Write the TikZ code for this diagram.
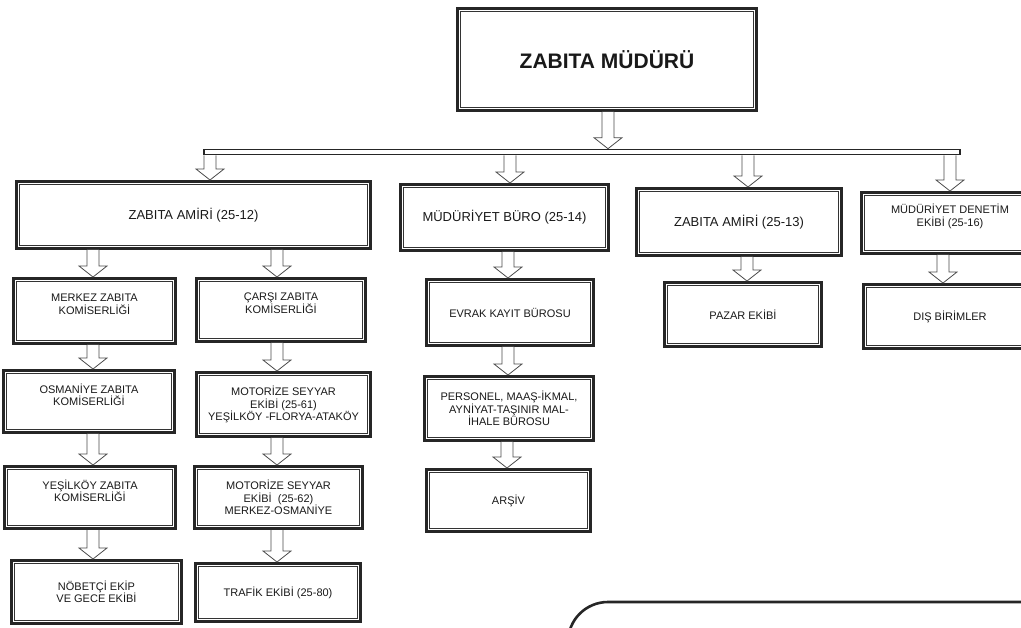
\documentclass[tikz,border=0pt]{standalone}
\usepackage{fontspec}
\setmainfont{Liberation Sans}
\usetikzlibrary{calc}
\tikzset{
  ubox/.style={draw=black!85, line width=2.8pt, fill=white, text=black!90, align=center,
    inner sep=0pt, font=\fontsize{11}{12.5}\selectfont},
  inbox/.style={draw=black!80, line width=1.1pt},
  blk/.style={draw=black!70, line width=0.8pt, fill=white, line join=miter},
  bigtxt/.style={font=\fontsize{13}{15}\selectfont},
  ttl/.style={font=\fontsize{21}{25}\selectfont\bfseries}
}
\newcommand\ubox[7][]{%
  \node[ubox,#1,minimum width={(#5-#3-2.8)*1pt},minimum height={(#6-#4-2.8)*1pt}] (#2) at ({(#3+#5)/2},{(#4+#6)/2}) {#7};
  \draw[inbox] ([xshift=4.6pt,yshift=-4.6pt]#2.north west) rectangle ([xshift=-4.6pt,yshift=4.6pt]#2.south east);
}
\newcommand\barrow[3]{%
  \draw[blk] let \p1=(#1), \p2=(#2) in
    ({(#3-6)*1pt},\y1) -- ({(#3-6)*1pt},{\y2+11pt}) -- ({(#3-14)*1pt},{\y2+11pt}) -- ({#3*1pt},\y2)
    -- ({(#3+14)*1pt},{\y2+11pt}) -- ({(#3+6)*1pt},{\y2+11pt}) -- ({(#3+6)*1pt},\y1);
}
\begin{document}
\begin{tikzpicture}[x=1pt,y=-1pt]
\path[use as bounding box] (0,0) rectangle (1021,628);
\clip (0,0) rectangle (1021,628);
\fill[white] (0,0) rectangle (1021,628);

% top
\ubox[ttl]{top}{456}{7}{758}{112}{ZABITA MÜDÜRÜ}
% bus
\node[draw=black!85, line width=1.6pt, fill=white, minimum width=756pt, minimum height=5pt, inner sep=0pt] (bus) at (582,152) {};
\barrow{top.south}{bus.north}{608}

% row 1
\ubox[bigtxt]{zamir1}{15}{180}{372}{250}{ZABITA AMİRİ (25-12)}
\ubox[bigtxt]{mburo}{399}{183}{610}{252}{MÜDÜRİYET BÜRO (25-14)}
\ubox[bigtxt]{zamir2}{635}{187}{843}{257}{ZABITA AMİRİ (25-13)}
\ubox{mdenetim}{860}{191}{1040}{255}{MÜDÜRİYET DENETİM\\EKİBİ (25-16)\\[3pt]}
\barrow{bus.south}{zamir1.north}{210}
\barrow{bus.south}{mburo.north}{510}
\barrow{bus.south}{zamir2.north}{748}
\barrow{bus.south}{mdenetim.north}{950}

% column 1
\ubox{merkez}{12}{277}{177}{345}{MERKEZ ZABITA\\KOMİSERLİĞİ\\[1pt]}
\ubox{osmaniye}{2}{369}{176}{434}{OSMANİYE ZABITA\\KOMİSERLİĞİ\\[1pt]}
\ubox{yesilkoy}{3}{465}{177}{530}{YEŞİLKÖY ZABITA\\KOMİSERLİĞİ\\[1pt]}
\ubox{nobetci}{10}{559}{183}{625}{NÖBETÇİ EKİP\\VE GECE EKİBİ}
\barrow{zamir1.south}{merkez.north}{93}
\barrow{merkez.south}{osmaniye.north}{93}
\barrow{osmaniye.south}{yesilkoy.north}{93}
\barrow{yesilkoy.south}{nobetci.north}{93}

% column 2
\ubox{carsi}{195}{277}{367}{343}{ÇARŞI ZABITA\\KOMİSERLİĞİ\\[1pt]}
\ubox{moto1}{195}{371}{372}{438}{MOTORİZE SEYYAR\\EKİBİ (25-61)\\YEŞİLKÖY -FLORYA-ATAKÖY}
\ubox{moto2}{193}{465}{364}{530}{MOTORİZE SEYYAR\\EKİBİ \ (25-62)\\MERKEZ-OSMANİYE}
\ubox{trafik}{194}{562}{362}{623}{TRAFİK EKİBİ (25-80)}
\barrow{zamir1.south}{carsi.north}{277}
\barrow{carsi.south}{moto1.north}{277}
\barrow{moto1.south}{moto2.north}{277}
\barrow{moto2.south}{trafik.north}{277}

% column 3
\ubox{evrak}{425}{278}{595}{347}{EVRAK KAYIT BÜROSU}
\ubox{personel}{423}{375}{595}{442}{PERSONEL, MAAŞ-İKMAL,\\AYNİYAT-TAŞINIR MAL-\\İHALE BÜROSU}
\ubox{arsiv}{425}{468}{592}{533}{ARŞİV}
\barrow{mburo.south}{evrak.north}{508}
\barrow{evrak.south}{personel.north}{508}
\barrow{personel.south}{arsiv.north}{507}

% column 4 and 5
\ubox{pazar}{663}{281}{823}{348}{PAZAR EKİBİ}
\ubox{dis}{862}{283}{1038}{350}{DIŞ BİRİMLER}
\barrow{zamir2.south}{pazar.north}{747}
\barrow{mdenetim.south}{dis.north}{943}

% partial rounded frame at bottom right
\draw[line width=2.6pt, draw=black!85, rounded corners=40pt] (568,700) -- (568,602) -- (1100,602);
\end{tikzpicture}
\end{document}
